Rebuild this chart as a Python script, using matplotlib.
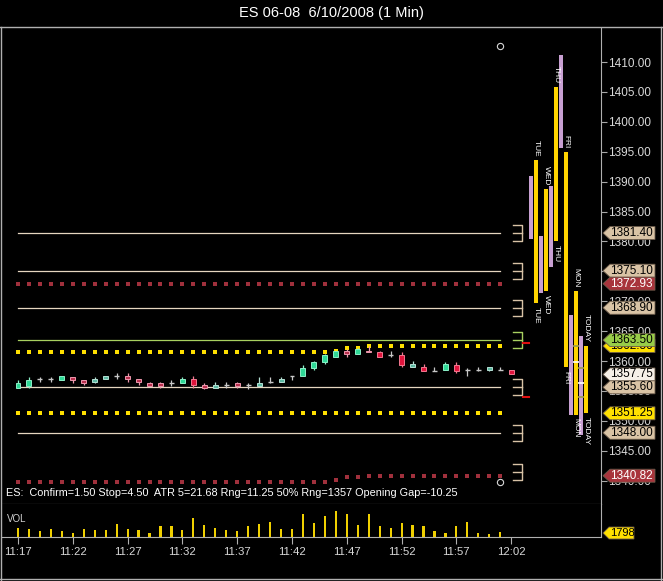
import matplotlib
matplotlib.use("Agg")
import matplotlib.pyplot as plt
import matplotlib.transforms as mtransforms
from matplotlib.patches import Polygon
from matplotlib.lines import Line2D

plt.rcParams['font.family'] = ['Liberation Sans', 'DejaVu Sans']

# one-minute bars 11:17 .. 12:02
opens = [1355.50, 1355.75, 1357.00, 1357.00, 1356.75, 1357.25, 1356.75, 1356.50, 1357.00, 1357.50,
         1357.50, 1357.00, 1356.25, 1356.25, 1356.25, 1356.25, 1357.00, 1356.00, 1355.50, 1356.00,
         1356.25, 1356.00, 1355.75, 1356.50, 1356.50, 1357.50, 1357.50, 1358.75, 1359.75, 1360.75,
         1361.75, 1361.25, 1361.75, 1361.50, 1361.00, 1361.00, 1359.00, 1359.00, 1358.25, 1358.50,
         1359.25, 1358.50, 1358.50, 1358.50, 1358.50, 1358.50]
highs = [1356.75, 1357.25, 1357.25, 1357.25, 1357.50, 1357.25, 1356.75, 1357.25, 1357.50, 1358.00,
         1358.00, 1357.00, 1356.50, 1356.50, 1356.75, 1357.25, 1357.50, 1356.25, 1356.50, 1356.50,
         1356.50, 1356.25, 1357.25, 1357.25, 1357.25, 1357.50, 1359.25, 1360.00, 1361.25, 1361.75,
         1362.00, 1362.25, 1362.50, 1361.75, 1361.75, 1361.50, 1360.00, 1359.50, 1359.00, 1359.75,
         1359.75, 1358.75, 1359.00, 1359.00, 1359.00, 1358.50]
lows = [1355.50, 1355.50, 1356.50, 1356.50, 1356.75, 1356.25, 1356.00, 1356.25, 1357.00, 1357.00,
        1356.50, 1356.00, 1355.75, 1355.50, 1355.75, 1356.25, 1355.50, 1355.25, 1355.50, 1355.50,
        1355.50, 1355.25, 1355.75, 1356.25, 1356.50, 1356.75, 1357.50, 1358.50, 1359.50, 1360.75,
        1360.75, 1361.25, 1361.50, 1360.75, 1360.75, 1359.00, 1359.00, 1358.25, 1358.25, 1358.50,
        1358.00, 1357.50, 1358.25, 1358.25, 1358.50, 1357.75]
closes = [1356.25, 1356.75, 1357.00, 1357.00, 1357.50, 1356.75, 1356.25, 1357.00, 1357.50, 1357.50,
          1357.00, 1356.50, 1355.75, 1355.75, 1356.25, 1357.00, 1356.00, 1355.50, 1356.00, 1356.00,
          1355.75, 1356.00, 1356.25, 1356.50, 1357.00, 1357.50, 1358.75, 1359.75, 1361.00, 1361.75,
          1361.25, 1362.00, 1361.50, 1360.75, 1361.00, 1359.25, 1359.50, 1358.25, 1358.25, 1359.50,
          1358.25, 1358.50, 1358.50, 1359.00, 1358.50, 1357.75]
volumes = [7000, 6250, 4250, 6250, 4250, 3250, 6250, 5000, 5500, 9500,
           6250, 5000, 3250, 8000, 8000, 5000, 14000, 8750, 7000, 5500,
           4250, 8000, 9500, 11000, 6250, 6250, 17000, 10250, 15500, 19750,
           17000, 8750, 17000, 8000, 7000, 10250, 8750, 8000, 4250, 3250,
           8000, 11000, 2750, 2500, 3500, 1798]
time_labels = ["11:17", "11:22", "11:27", "11:32", "11:37", "11:42", "11:47", "11:52", "11:57", "12:02"]

# running day high and the ATR projection hanging off it
day_high_line = [1361.50] * 29 + [1361.75, 1362.25, 1362.25] + [1362.50] * 13
atr_low_line = [1339.82] * 29 + [1340.07, 1340.57, 1340.57] + [1340.82] * 13

pivot_levels = [1381.40, 1375.10, 1368.90, 1355.60, 1348.00]
key_level = 1363.50
day_low = 1351.25
atr_high = 1372.93
last_price = 1357.75

# previous sessions (globex range, pit range)
sessions = ["TUE", "WED", "THU", "FRI", "MON", "TODAY"]
globex_high = [1390.9, 1380.9, 1389.3, 1411.2, 1367.7, 1364.2]
globex_low = [1380.4, 1371.4, 1375.7, 1395.6, 1351.0, 1347.6]
pit_high = [1393.6, 1388.8, 1405.8, 1395.0, 1371.7, 1362.5]
pit_low = [1369.7, 1371.7, 1380.0, 1359.0, 1351.0, 1351.25]

bracket_levels = [1381.40, 1375.10, 1368.90, 1363.50, 1355.60, 1348.00, 1341.40]
stop_ticks = [1363.05, 1354.00]
circle_marks = [1412.7, 1339.8]

info = "ES:  Confirm=1.50 Stop=4.50  ATR 5=21.68 Rng=11.25 50% Rng=1357 Opening Gap=-10.25"

W, H = 663, 581
fig = plt.figure(figsize=(W / 100, H / 100), dpi=100, facecolor='black')

# pixel layout
AX_L, AX_R, AX_T, AX_B = 2, 601, 28, 504
VOL_B = 537
PX_PER_MIN = 10.96
PX_PER_PT = 5.98
AXW = AX_R - AX_L

ax = fig.add_axes([AX_L / W, 1 - AX_B / H, AXW / W, (AX_B - AX_T) / H], facecolor='black')
vax = fig.add_axes([AX_L / W, 1 - VOL_B / H, AXW / W, (VOL_B - AX_B) / H], facecolor='black', sharex=ax)

ax.set_xlim((AX_L - 18) / PX_PER_MIN, (AX_R - 18) / PX_PER_MIN)
ax.set_ylim(1410 - (AX_B - 62) / PX_PER_PT, 1410 - (AX_T - 62) / PX_PER_PT)

n = len(opens)
idx = list(range(n))
line_idx = list(range(len(day_high_line)))

# levels
for lv in pivot_levels:
    ax.plot([line_idx[0], line_idx[-1]], [lv, lv], color='#E6D6C0', lw=0.9)
ax.plot([line_idx[0], line_idx[-1]], [key_level, key_level], color='#A8D060', lw=0.9)

ax.plot(line_idx, [atr_high] * len(line_idx), 's', color='#A0303C', ms=3, mew=0)
ax.plot(line_idx, [day_low] * len(line_idx), 's', color='#FFE000', ms=3, mew=0)
ax.plot(line_idx, day_high_line, 's', color='#FFE000', ms=3, mew=0)
ax.plot(line_idx, atr_low_line, 's', color='#A0303C', ms=3, mew=0)

# candles
bw = 0.45
for i in idx:
    o, h, l, c = opens[i], highs[i], lows[i], closes[i]
    body = c - o
    if body > 0:
        fc, ec = ('#2FD896', '#8CF0C8') if body >= 0.75 else ('#5DB8A2', '#B4E0D4')
    elif body < 0:
        fc, ec = ('#E0143C', '#F27890') if body <= -0.75 else ('#B8304E', '#EE98AE')
    else:
        fc, ec = '#C8C8C8', '#C8C8C8'
    ax.vlines(i, l, h, color=ec, lw=0.9, zorder=3)
    if body == 0:
        ax.hlines(o, i - bw / 2, i + bw / 2, color=ec, lw=1.0, zorder=3)
    else:
        ax.bar(i, abs(body), bw, bottom=min(o, c), color=fc, edgecolor=ec, lw=0.7, zorder=4)

# session range bars on the right
x0 = (531 - 18) / PX_PER_MIN
step = 10 / PX_PER_MIN
sw = 4 / PX_PER_MIN
for k, name in enumerate(sessions):
    xp = x0 + k * step
    xy = xp + step / 2
    ax.bar(xp, globex_high[k] - globex_low[k], sw, bottom=globex_low[k], color='#C8A0D2', lw=0, zorder=3)
    ax.bar(xy, pit_high[k] - pit_low[k], sw, bottom=pit_low[k], color='#FFD400', lw=0, zorder=3)
    ax.text(xy, pit_high[k] + 0.6, name, rotation=270, ha='center', va='bottom',
            color='white', fontsize=6, zorder=5)
    ax.text(xy, pit_low[k] - 0.6, name, rotation=270, ha='center', va='top',
            color='white', fontsize=6, zorder=5)

# open/close ticks on the last sessions
bar_marks = [(4.5, 1362.5, '#9A9A50'), (4.5, 1359.75, 'white'), (5.0, 1358.75, '#9A9A50'),
             (5.0, 1356.25, 'white'), (5.0, 1354.0, '#9A9A50')]
for pos, p, col in bar_marks:
    xc = x0 + pos * step
    ax.hlines(p, xc - 0.3, xc + 0.3, color=col, lw=1.2, zorder=6)

# brackets right of the lines
bx0 = (513 - 18) / PX_PER_MIN
bx1 = (522 - 18) / PX_PER_MIN
bh = 8 / PX_PER_PT
for lv in bracket_levels:
    col = '#A8D060' if lv == key_level else '#D8C2A6'
    ax.plot([bx0, bx1, bx1, bx0], [lv + bh, lv + bh, lv - bh, lv - bh], color=col, lw=1.0)
    ax.plot([bx0, bx1], [lv, lv], color=col, lw=1.0)
for p in stop_ticks:
    ax.plot([bx1 + 0.1, bx1 + 0.65], [p, p], color='#E01010', lw=1.5)

for p in circle_marks:
    ax.plot(n - 2, p, 'o', mfc='none', mec='#D8D8D8', ms=4.5, mew=0.8)

ax.text(4 / AXW, (AX_B - 493) / (AX_B - AX_T), info, transform=ax.transAxes,
        color='white', fontsize=7.8, va='center', ha='left')

# price scale
ax.yaxis.tick_right()
ax.set_yticks(range(1340, 1415, 5))
ax.set_yticklabels([f"{v:.2f}" for v in range(1340, 1415, 5)])
ax.tick_params(axis='y', colors='#A8A8A8', labelcolor='#D8D8D8', length=4, width=0.8,
               labelsize=8.5, pad=1)
ax.tick_params(axis='x', bottom=False, labelbottom=False)
for s in ['left', 'top']:
    ax.spines[s].set_visible(False)
ax.spines['right'].set_color('#B0B0B0')
ax.spines['bottom'].set_color('#B0B0B0')

# price tags
trans = mtransforms.blended_transform_factory(ax.transAxes, ax.transData)
tags = [(pivot_levels[0], '#D9C3A5', 'black'), (pivot_levels[1], '#D9C3A5', 'black'),
        (atr_high, '#A8343C', 'white'), (pivot_levels[2], '#D9C3A5', 'black'),
        (day_high_line[-1], '#FFE000', 'black'), (key_level, '#98CC48', 'black'),
        (last_price, '#F6F0E8', 'black'), (pivot_levels[3], '#D9C3A5', 'black'),
        (day_low, '#FFE000', 'black'), (pivot_levels[4], '#D9C3A5', 'black'),
        (atr_low_line[-1], '#A8343C', 'white')]
th = 6.5 / PX_PER_PT
for z, (v, fc, tc) in enumerate(tags):
    xa, xb, xc = 1 + 2 / AXW, 1 + 9 / AXW, 1 + 54 / AXW
    poly = Polygon([(xa, v), (xb, v + th), (xc, v + th), (xc, v - th), (xb, v - th)],
                   closed=True, transform=trans, facecolor=fc, edgecolor='#6A5A4A', lw=0.6,
                   clip_on=False, zorder=10 + 2 * z)
    ax.add_patch(poly)
    ax.text(1 + 9.5 / AXW, v, f"{v:.2f}", transform=trans, color=tc, fontsize=8.5,
            va='center', ha='left', clip_on=False, zorder=11 + 2 * z)

# volume panel
vax.bar(idx[:-1], volumes[:-1], 0.2, color='#F0D000', lw=0)
vax.set_ylim(0, 24800)
vax.set_xticks(range(0, n, 5))
vax.set_xticklabels(time_labels)
vax.tick_params(axis='x', colors='#B0B0B0', labelcolor='#D8D8D8', length=5, width=0.8,
                labelsize=8.2, pad=2, direction='out')
vax.tick_params(axis='y', left=False, right=False, labelleft=False)
for s in ['left', 'top']:
    vax.spines[s].set_visible(False)
vax.spines['right'].set_color('#B0B0B0')
vax.spines['bottom'].set_color('#B0B0B0')
vax.text(5 / AXW, 0.55, "VOL", transform=vax.transAxes, color='#D0D0D0', fontsize=7, va='center')

vtrans = mtransforms.blended_transform_factory(vax.transAxes, vax.transData)
vv = max(volumes[-1], 3000)
vth = 6 * 24800 / (VOL_B - AX_B)
xa, xb, xc = 1 + 2 / AXW, 1 + 8 / AXW, 1 + 33 / AXW
vax.add_patch(Polygon([(xa, vv), (xb, vv + vth), (xc, vv + vth), (xc, vv - vth), (xb, vv - vth)],
                      closed=True, transform=vtrans, facecolor='#FFE000', edgecolor='#6A5A4A',
                      lw=0.6, clip_on=False, zorder=10))
vax.text(1 + 9 / AXW, vv, f"{volumes[-1]}", transform=vtrans, color='black', fontsize=8,
         va='center', ha='left', clip_on=False, zorder=11)

# outer frame
frame = '#B0B0B0'
fig.add_artist(Line2D([0, 1], [1 - 27 / H, 1 - 27 / H], color=frame, lw=1))
fig.add_artist(Line2D([1 / W, 1 / W], [1 / H, 1 - 27 / H], color=frame, lw=1))
fig.add_artist(Line2D([661 / W, 661 / W], [1 / H, 1 - 27 / H], color=frame, lw=1))
fig.add_artist(Line2D([0, 1], [2 / H, 2 / H], color=frame, lw=1))

fig.text(0.5, 1 - 13 / H, "ES 06-08  6/10/2008 (1 Min)", color='white', fontsize=10.5,
         ha='center', va='center')

fig.savefig("out.png", dpi=100, facecolor='black')
